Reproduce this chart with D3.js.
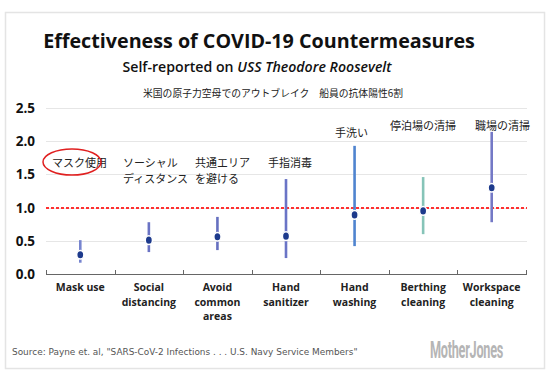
<!DOCTYPE html>
<html><head><meta charset="utf-8">
<script src="https://cdn.jsdelivr.net/npm/d3@7"></script>
<style>body{margin:0;background:#fff}svg{display:block}</style>
</head><body><svg id="c" width="550" height="382"></svg>
<script>
const categories = ["Mask use","Social distancing","Avoid common areas","Hand sanitizer","Hand washing","Berthing cleaning","Workspace cleaning"];
const categoryLines = [["Mask use"],["Social","distancing"],["Avoid","common","areas"],["Hand","sanitizer"],["Hand","washing"],["Berthing","cleaning"],["Workspace","cleaning"]];
const estimates = [0.29,0.51,0.56,0.57,0.89,0.95,1.30];
const lowerCI = [0.17,0.33,0.36,0.24,0.42,0.60,0.78];
const upperCI = [0.51,0.78,0.86,1.43,1.93,1.46,2.14];
const jaLabels = [["マスク使用"],["ソーシャル","ディスタンス"],["共通エリア","を避ける"],["手指消毒"],["手洗い"],["停泊場の清掃"],["職場の清掃"]];
const yTicks = [0,0.5,1.0,1.5,2.0,2.5];
const refValue = 1.0;
const ciColors = ["#7684cf","#6a73c4","#6670c0","#6a74c6","#4f84cf","#86c4b8","#7479c6"];
const jaPos = [[52,163],[123,163],[195,163],[268,163],[335,133],[390,126],[475,126]];

const svg = d3.select("#c");
function fit(sel, w){
  const n = sel.node(); const fs = parseFloat(sel.attr("font-size"));
  const cur = n.getComputedTextLength();
  if (cur > 0) sel.attr("font-size", (fs * w / cur).toFixed(2));
  return sel;
}
// frame
svg.append("rect").attr("x",5.5).attr("y",12.5).attr("width",539).attr("height",356)
  .attr("fill","none").attr("stroke","#e4e4e4").attr("stroke-width",1.5);

const y = d3.scaleLinear().domain([0,2.5]).range([274,108]);
const x = d3.scaleBand().domain(categories).range([46,526]);

// gridlines
svg.append("g").selectAll("line").data(yTicks.filter(d=>d>0)).join("line")
  .attr("x1",46).attr("x2",527).attr("y1",d=>Math.round(y(d))+0.5).attr("y2",d=>Math.round(y(d))+0.5)
  .attr("stroke","#e6e6e6").attr("stroke-width",1);

// y labels
svg.append("g").selectAll("text").data(yTicks).join("text")
  .attr("x",35).attr("y",d=>y(d)+5).attr("text-anchor","end")
  .attr("font-family","'Open Sans',sans-serif").attr("font-weight",700).attr("font-size",13.5)
  .attr("fill","#111").text(d=>d.toFixed(1));

// x axis
const xa = svg.append("g").attr("transform",`translate(0,${Math.round(y(0))})`)
  .call(d3.axisBottom(x).tickSize(0).tickFormat(""));
xa.select(".domain").attr("stroke","#666").attr("d","M46.5,0.5H526.5");
const edges = categories.map(c=>x(c)).concat([x.range()[1]]);
xa.selectAll(".edge").data(edges).join("line").attr("class","edge")
  .attr("x1",d=>Math.round(d)+0.5).attr("x2",d=>Math.round(d)+0.5).attr("y1",-4).attr("y2",1).attr("stroke","#666");

// x labels
const xl = svg.append("g").selectAll("text").data(categories).join("text")
  .attr("x",d=>x(d)+x.bandwidth()/2).attr("y",291).attr("text-anchor","middle")
  .attr("font-family","'Open Sans',sans-serif").attr("font-weight",700).attr("font-size",10.5)
  .attr("fill","#222");
xl.each(function(d,i){
  d3.select(this).selectAll("tspan").data(categoryLines[i]).join("tspan")
    .attr("x",x(d)+x.bandwidth()/2).attr("dy",(t,j)=>j===0?0:14.5).text(t=>t);
});

// reference line
const ry = Math.round(y(refValue));
svg.append("line").attr("x1",46).attr("x2",527).attr("y1",ry).attr("y2",ry)
  .attr("stroke","#ff3030").attr("stroke-width",2).attr("stroke-dasharray","3,2");

// CI lines
svg.append("g").selectAll("line").data(categories).join("line")
  .attr("x1",d=>x(d)+x.bandwidth()/2).attr("x2",d=>x(d)+x.bandwidth()/2)
  .attr("y1",(d,i)=>y(lowerCI[i])).attr("y2",(d,i)=>y(upperCI[i]))
  .attr("stroke",(d,i)=>ciColors[i]).attr("stroke-width",2.6);

// points
svg.append("g").selectAll("ellipse").data(categories).join("ellipse")
  .attr("cx",d=>x(d)+x.bandwidth()/2).attr("cy",(d,i)=>y(estimates[i]))
  .attr("rx",3.6).attr("ry",4.3).attr("fill","#1d3a8c").attr("stroke","#fff").attr("stroke-width",1.5);

// Japanese annotations
const ja = svg.append("g").selectAll("text").data(jaLabels).join("text")
  .attr("x",(d,i)=>jaPos[i][0]).attr("y",(d,i)=>jaPos[i][1]+4)
  .attr("font-family","'Noto Sans CJK JP',sans-serif").attr("font-size",11).attr("fill","#222");
ja.each(function(d,i){
  d3.select(this).selectAll("tspan").data(d).join("tspan")
    .attr("x",jaPos[i][0]).attr("dy",(t,j)=>j===0?0:16).text(t=>t);
});
svg.append("ellipse").attr("cx",72).attr("cy",162).attr("rx",29).attr("ry",13)
  .attr("fill","none").attr("stroke","#e02020").attr("stroke-width",1.5);

// titles
fit(svg.append("text").attr("x",259).attr("y",48).attr("text-anchor","middle")
  .attr("font-family","'Open Sans',sans-serif").attr("font-weight",700).attr("font-size",24)
  .attr("fill","#111").text("Effectiveness of COVID-19 Countermeasures"), 432);
const sub = svg.append("text").attr("x",257).attr("y",72).attr("text-anchor","middle")
  .attr("font-family","'Open Sans',sans-serif").attr("font-weight",600).attr("font-size",16)
  .attr("fill","#111");
sub.append("tspan").text("Self-reported on ");
sub.append("tspan").attr("font-style","italic").text("USS Theodore Roosevelt");
fit(sub, 269);
fit(svg.append("text").attr("x",273).attr("y",97).attr("text-anchor","middle")
  .attr("font-family","'Noto Sans CJK JP',sans-serif").attr("font-size",10.5).attr("fill","#222")
  .text("米国の原子力空母でのアウトブレイク　船員の抗体陽性6割"), 260);

// source
fit(svg.append("text").attr("x",12).attr("y",355)
  .attr("font-family","'DejaVu Sans',sans-serif").attr("font-size",10.5).attr("fill","#555")
  .text("Source: Payne et. al, \"SARS-CoV-2 Infections . . . U.S. Navy Service Members\""), 346);
const mj = svg.append("text").attr("x",0).attr("y",0)
  .attr("font-family","'Roboto',sans-serif").attr("font-weight",700).attr("font-size",24)
  .attr("letter-spacing",-0.5).attr("fill","#b5b5b5").text("MotherJones");
const mjw = mj.node().getComputedTextLength();
mj.attr("transform",`translate(430,358) scale(${(73/mjw).toFixed(3)},1)`);
</script></body></html>
